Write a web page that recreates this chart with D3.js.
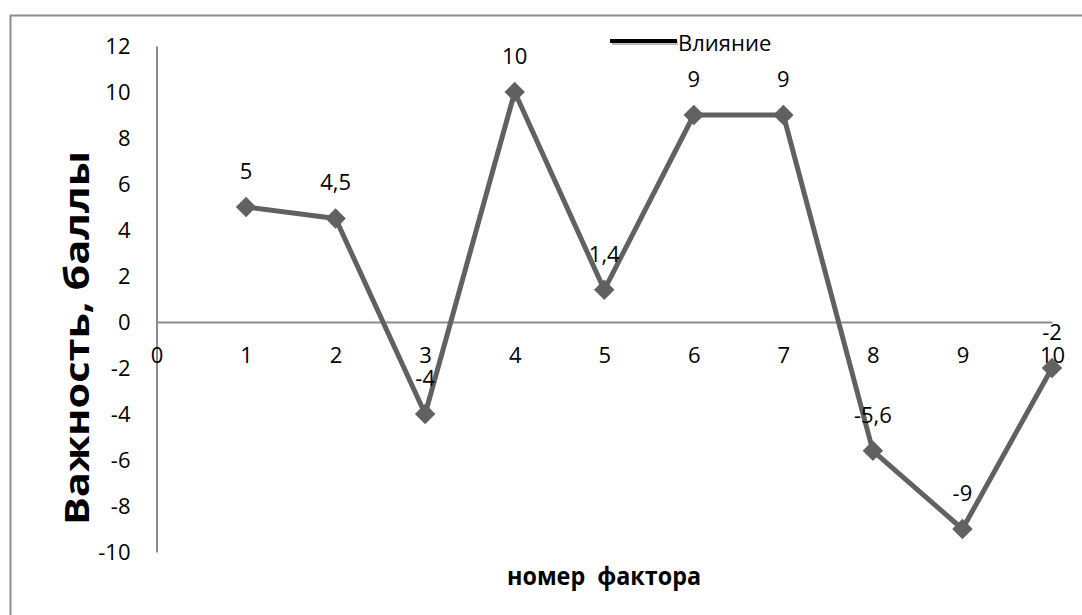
<!DOCTYPE html>
<html>
<head>
<meta charset="utf-8">
<script src="https://cdn.jsdelivr.net/npm/d3@7"></script>
<style>
  html, body { margin: 0; padding: 0; background: #fff; }
  svg { display: block; }
</style>
</head>
<body>
<svg id="chart" width="1082" height="615"></svg>
<script>
// Factor numbers and their influence scores
const factors = [1, 2, 3, 4, 5, 6, 7, 8, 9, 10];
const influence = [5, 4.5, -4, 10, 1.4, 9, 9, -5.6, -9, -2];
const xTicks = [0, 1, 2, 3, 4, 5, 6, 7, 8, 9, 10];
const yTicks = [-10, -8, -6, -4, -2, 0, 2, 4, 6, 8, 10, 12];
const seriesName = "Влияние";
const xTitle = "номер  фактора";
const yTitle = "Важность, баллы";

const W = 1082, H = 615;
const font = "'Open Sans', 'DejaVu Sans', sans-serif";
const lineColor = "#616161";
const axisColor = "#8c8c8c";

const svg = d3.select("#chart");

// chart frame (open to the right and bottom edges)
svg.append("rect")
  .attr("x", 10.5).attr("y", 15.5)
  .attr("width", W + 10).attr("height", H + 10)
  .attr("fill", "none").attr("stroke", axisColor).attr("stroke-width", 2);

const x = d3.scaleLinear().domain([0, 10]).range([156.5, 1052]);
const y = d3.scaleLinear().domain([-10, 12]).range([552, 46]);

// vertical axis
const yAxis = svg.append("g").attr("transform", `translate(${x(0)},0)`)
  .call(d3.axisLeft(y).tickValues(yTicks).tickSize(0).tickPadding(26)
    .tickFormat(d => String(d)));
yAxis.select(".domain").attr("stroke", axisColor).attr("stroke-width", 2);
yAxis.selectAll("text").attr("font-family", font).attr("font-size", 22)
  .attr("fill", "#000");

// horizontal axis through zero
const xAxis = svg.append("g").attr("transform", `translate(0,${y(0)})`)
  .call(d3.axisBottom(x).tickValues(xTicks).tickSize(0).tickPadding(25)
    .tickFormat(d => String(d)));
xAxis.select(".domain").attr("stroke", axisColor).attr("stroke-width", 2);
xAxis.selectAll("text").attr("font-family", font).attr("font-size", 22)
  .attr("fill", "#000");

// axis titles
svg.append("text")
  .attr("transform", `translate(89,338) rotate(-90)`)
  .attr("text-anchor", "middle")
  .attr("font-family", font).attr("font-weight", "bold").attr("font-size", 34)
  .attr("textLength", 374).attr("lengthAdjust", "spacingAndGlyphs")
  .text(yTitle);

svg.append("text")
  .attr("x", 604).attr("y", 585)
  .attr("text-anchor", "middle")
  .style("white-space", "pre")
  .attr("font-family", font).attr("font-weight", "bold").attr("font-size", 25)
  .attr("textLength", 194).attr("lengthAdjust", "spacingAndGlyphs")
  .text(xTitle);

// series line
const pts = factors.map((f, i) => ({ f, v: influence[i] }));
svg.append("path")
  .datum(pts)
  .attr("fill", "none").attr("stroke", lineColor).attr("stroke-width", 5)
  .attr("stroke-linejoin", "round")
  .attr("d", d3.line().x(d => x(d.f)).y(d => y(d.v)));

// diamond markers
const diamond = d3.symbol().type(d3.symbolSquare).size(210);
svg.append("g").selectAll("path").data(pts).join("path")
  .attr("d", diamond)
  .attr("transform", d => `translate(${x(d.f)},${y(d.v)}) rotate(45)`)
  .attr("fill", lineColor);

// value labels
const fmt = v => String(v).replace(".", ",");
svg.append("g").selectAll("text").data(pts).join("text")
  .attr("x", d => x(d.f))
  .attr("y", d => y(d.v) - 36)
  .attr("dy", "0.35em")
  .attr("text-anchor", "middle")
  .attr("font-family", font).attr("font-size", 22).attr("fill", "#000")
  .text(d => fmt(d.v));

// legend
const legend = svg.append("g");
legend.append("line")
  .attr("x1", 612).attr("x2", 678).attr("y1", 43).attr("y2", 43)
  .attr("stroke", "#bbb").attr("stroke-width", 4);
legend.append("line")
  .attr("x1", 610).attr("x2", 677).attr("y1", 41).attr("y2", 41)
  .attr("stroke", "#000").attr("stroke-width", 4);
legend.append("text")
  .attr("x", 678).attr("y", 43).attr("dy", "0.35em")
  .attr("font-family", font).attr("font-size", 22).attr("fill", "#000")
  .text(seriesName);
</script>
</body>
</html>
